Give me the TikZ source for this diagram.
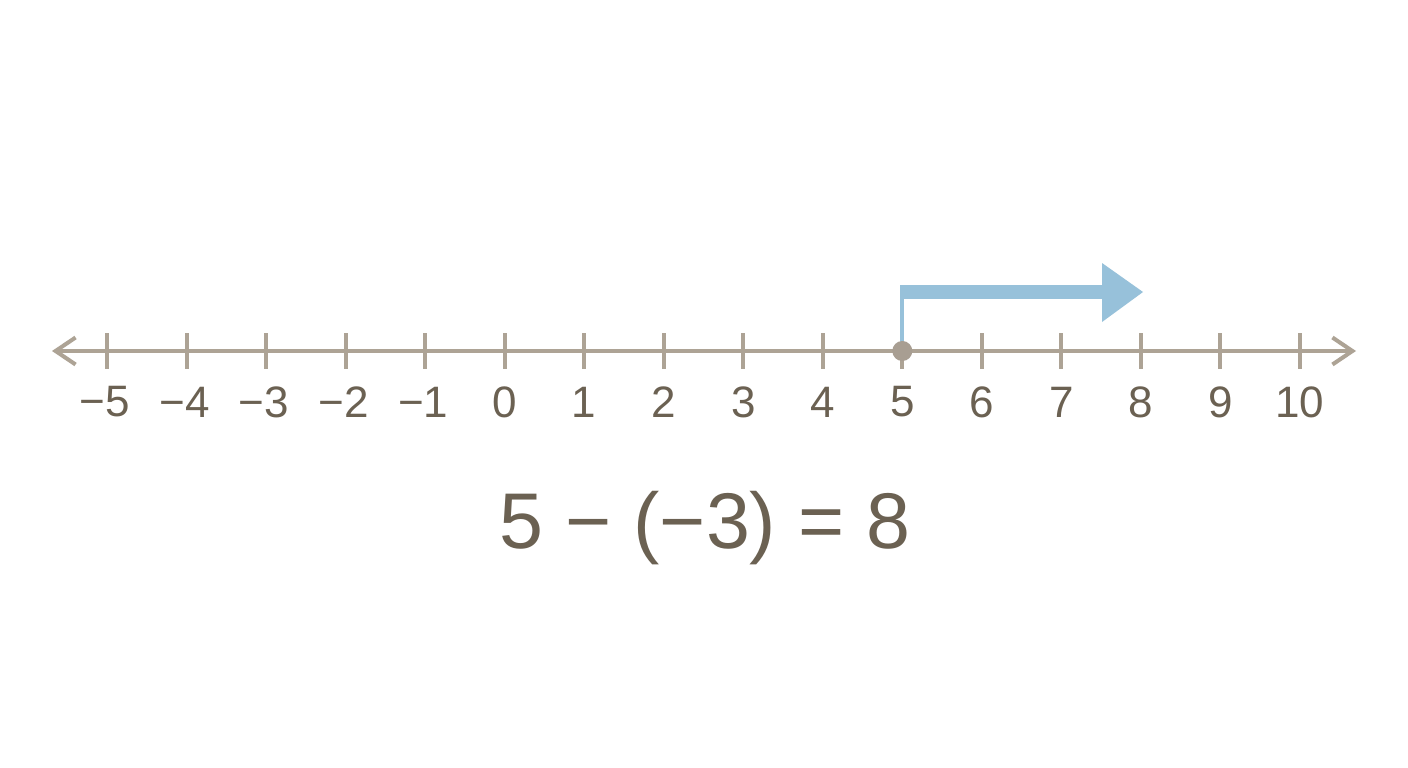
\documentclass[tikz,border=0pt]{standalone}
\usepackage{fontspec}
\setmainfont{Liberation Sans}
\usetikzlibrary{arrows.meta}
\definecolor{axisc}{HTML}{ADA395}
\definecolor{textc}{HTML}{6B6152}
\definecolor{bluec}{HTML}{97C1DA}
\definecolor{dotc}{HTML}{A89E92}
\tikzset{
  axisline/.style={draw=axisc, line width=4pt},
  tickmark/.style={draw=axisc, line width=4pt},
  numlabel/.style={text=textc, font=\fontsize{44}{50}\selectfont, inner sep=0pt, anchor=center},
  eqlabel/.style={text=textc, font=\fontsize{79}{90}\selectfont, inner sep=0pt},
  axtip/.tip={Straight Barb[length=20pt, width=27pt, line width=4pt]}
}
\begin{document}
\begin{tikzpicture}[x=1pt,y=-1pt]
\useasboundingbox[fill=white] (0,0) rectangle (1408,768);
\coordinate (L) at (52,351);
\coordinate (R) at (1356,351);
\draw[axisline, axtip-axtip] (L) -- (R);
\foreach \v [count=\i from 0] in {-5,...,10} {
  \pgfmathsetmacro{\xx}{107+\i*79.53}
  \coordinate (t\i) at (\xx,351);
  \draw[tickmark] (\xx,333) -- (\xx,369);
  \ifnum\v<0
    \pgfmathtruncatemacro{\av}{-\v}
    \node[numlabel] (lab\i) at (\xx-2,402) {−\av};
  \else
    \node[numlabel] (lab\i) at (\xx,402) {\v};
  \fi
}
% blue jump arrow
\coordinate (corner) at (t10 |- 0,292);
\draw[bluec, line width=4pt] (t10) -- (corner);
\fill[bluec] (900.3,285) rectangle (1104,299);
\fill[bluec] (1102,263) -- (1143,292) -- (1102,322) -- cycle;
% dot at 5
\node[circle, fill=dotc, minimum size=20pt, inner sep=0pt] (dot) at (t10) {};
% equation
\node[eqlabel] (eq) at (705,528) {5 − (−3) = 8};
\end{tikzpicture}
\end{document}
